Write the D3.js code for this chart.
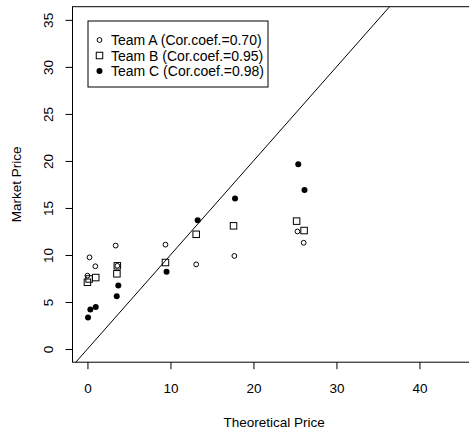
<!DOCTYPE html>
<html>
<head>
<meta charset="utf-8">
<script src="https://cdn.jsdelivr.net/npm/d3@7"></script>
<style>
  html, body { margin: 0; padding: 0; background: #fff; }
  svg { display: block; }
</style>
</head>
<body>
<div id="chart"></div>
<script>
// ── Data ────────────────────────────────────────────────────
const teamNames = ['Team A (Cor.coef.=0.70)', 'Team B (Cor.coef.=0.95)', 'Team C (Cor.coef.=0.98)'];

const teamATheo   = [0.0, 0.25, 0.95, 3.4, 3.6, 9.4, 13.1, 17.7, 25.3, 26.05];
const teamAMarket = [7.8, 9.75, 8.8, 11.0, 8.85, 11.1, 9.0, 9.9, 12.5, 11.3];

const teamBTheo   = [0.0, 0.2, 1.0, 3.55, 3.6, 9.4, 13.1, 17.6, 25.2, 26.1];
const teamBMarket = [7.1, 7.45, 7.6, 8.0, 8.85, 9.2, 12.2, 13.1, 13.6, 12.6];

const teamCTheo   = [0.07, 0.35, 1.0, 3.53, 3.72, 9.53, 13.28, 17.78, 25.4, 26.15];
const teamCMarket = [3.35, 4.2, 4.48, 5.6, 6.75, 8.22, 13.7, 16.0, 19.65, 16.9];

const xTicks = [0, 10, 20, 30, 40];
const yTicks = [0, 5, 10, 15, 20, 25, 30, 35];

// ── Layout ──────────────────────────────────────────────────
const width = 469, height = 431;
const font = "'Liberation Sans', Arial, Helvetica, sans-serif";
const fs = '13.5px';

const svg = d3.select('#chart')
  .append('svg')
  .attr('width', width)
  .attr('height', height);

// plot region uses R-style 4% padding around xlim = [0,45], ylim = [0,35]
const x = d3.scaleLinear().domain([-1.8, 46.8]).range([72.5, 475.9]);
const y = d3.scaleLinear().domain([-1.4, 36.4]).range([362.2, 6.7]);

const [x0, x1] = x.range();
const [y0, y1] = y.range();

svg.append('defs').append('clipPath')
  .attr('id', 'plotclip')
  .append('rect')
  .attr('x', x0).attr('y', y1)
  .attr('width', x1 - x0).attr('height', y0 - y1);

// ── y = x reference line ────────────────────────────────────
svg.append('line')
  .attr('clip-path', 'url(#plotclip)')
  .attr('x1', x(-5)).attr('y1', y(-5))
  .attr('x2', x(50)).attr('y2', y(50))
  .attr('stroke', '#000')
  .attr('stroke-width', 1);

// ── Points ──────────────────────────────────────────────────
const ptsA = teamATheo.map((t, i) => ({ t, m: teamAMarket[i] }));
const ptsB = teamBTheo.map((t, i) => ({ t, m: teamBMarket[i] }));
const ptsC = teamCTheo.map((t, i) => ({ t, m: teamCMarket[i] }));

const sq = 6.5;

svg.append('g').selectAll('rect')
  .data(ptsB).join('rect')
  .attr('x', d => x(d.t) - sq / 2)
  .attr('y', d => y(d.m) - sq / 2)
  .attr('width', sq).attr('height', sq)
  .attr('fill', 'none')
  .attr('stroke', '#000')
  .attr('stroke-width', 1);

svg.append('g').selectAll('circle')
  .data(ptsA).join('circle')
  .attr('cx', d => x(d.t))
  .attr('cy', d => y(d.m))
  .attr('r', 2.4)
  .attr('fill', 'none')
  .attr('stroke', '#000')
  .attr('stroke-width', 1);

svg.append('g').selectAll('circle')
  .data(ptsC).join('circle')
  .attr('cx', d => x(d.t))
  .attr('cy', d => y(d.m))
  .attr('r', 3)
  .attr('fill', '#000');

// ── Box (right side falls outside the picture) ──────────────
svg.append('rect')
  .attr('x', x0).attr('y', y1)
  .attr('width', x1 - x0).attr('height', y0 - y1)
  .attr('fill', 'none')
  .attr('stroke', '#000')
  .attr('stroke-width', 1);

// ── Axes ────────────────────────────────────────────────────
const xAxis = svg.append('g')
  .attr('transform', `translate(0,${y0})`)
  .call(d3.axisBottom(x).tickValues(xTicks).tickSize(7).tickPadding(14).tickFormat(d3.format('d')));

const yAxis = svg.append('g')
  .attr('transform', `translate(${x0},0)`)
  .call(d3.axisLeft(y).tickValues(yTicks).tickSize(7).tickFormat(d3.format('d')));

svg.selectAll('.domain').remove();
svg.selectAll('.tick line').attr('stroke', '#000');

xAxis.selectAll('text')
  .attr('fill', '#000')
  .attr('font-family', font)
  .attr('font-size', fs);

// y labels are rotated like base R
yAxis.selectAll('.tick text')
  .attr('fill', '#000')
  .attr('font-family', font)
  .attr('font-size', fs)
  .attr('text-anchor', 'middle')
  .attr('x', null).attr('dy', null)
  .attr('transform', `translate(${48 - x0},0) rotate(-90)`)
  .attr('dominant-baseline', 'central');

// ── Axis titles ─────────────────────────────────────────────
svg.append('text')
  .attr('x', (x0 + x1) / 2)
  .attr('y', 422)
  .attr('text-anchor', 'middle')
  .attr('dominant-baseline', 'central')
  .attr('font-family', font)
  .attr('font-size', fs)
  .text('Theoretical Price');

svg.append('text')
  .attr('transform', `translate(16,${(y0 + y1) / 2}) rotate(-90)`)
  .attr('text-anchor', 'middle')
  .attr('dominant-baseline', 'central')
  .attr('font-family', font)
  .attr('font-size', fs)
  .text('Market Price');

// ── Legend ──────────────────────────────────────────────────
const legend = svg.append('g').attr('transform', 'translate(88,21)');

legend.append('rect')
  .attr('x', 0).attr('y', 0)
  .attr('width', 180).attr('height', 66)
  .attr('fill', '#fff')
  .attr('stroke', '#000')
  .attr('stroke-width', 1);

const rowY = [19, 34.5, 50];

legend.append('circle')
  .attr('cx', 11.5).attr('cy', rowY[0]).attr('r', 2.4)
  .attr('fill', 'none').attr('stroke', '#000');

legend.append('rect')
  .attr('x', 11.5 - sq / 2).attr('y', rowY[1] - sq / 2)
  .attr('width', sq).attr('height', sq)
  .attr('fill', 'none').attr('stroke', '#000');

legend.append('circle')
  .attr('cx', 11.5).attr('cy', rowY[2]).attr('r', 3)
  .attr('fill', '#000');

legend.selectAll('text.lab')
  .data(teamNames).join('text')
  .attr('class', 'lab')
  .attr('x', 23)
  .attr('y', (d, i) => rowY[i])
  .attr('dominant-baseline', 'central')
  .attr('font-family', font)
  .attr('font-size', '14px')
  .text(d => d);
</script>
</body>
</html>
